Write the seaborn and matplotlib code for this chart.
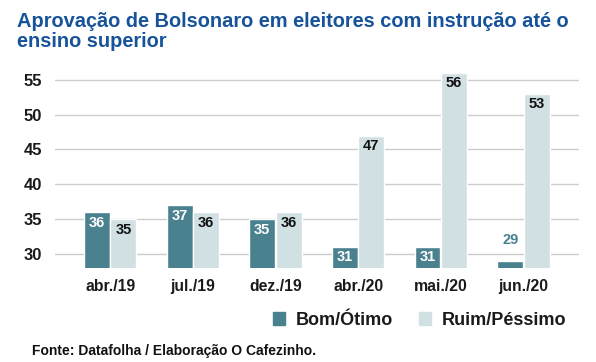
import numpy as np
import pandas as pd
import matplotlib
matplotlib.use("Agg")
import matplotlib.pyplot as plt
import seaborn as sns
from matplotlib.patches import Patch
from matplotlib.font_manager import FontProperties

# data
meses = ['abr./19', 'jul./19', 'dez./19', 'abr./20', 'mai./20', 'jun./20']
bom_otimo = [36, 37, 35, 31, 31, 29]
ruim_pessimo = [35, 36, 36, 47, 56, 53]
series = ['Bom/Ótimo', 'Ruim/Péssimo']

cor_escura = '#4a818e'
cor_clara = '#d1e0e3'

df = pd.DataFrame({'mes': meses * 2,
                   'serie': [series[0]] * len(meses) + [series[1]] * len(meses),
                   'valor': bom_otimo + ruim_pessimo})

sns.set_style('white')
plt.rcParams['font.family'] = ['Liberation Sans', 'DejaVu Sans']

fig = plt.figure(figsize=(5.96, 3.62), dpi=100)
ax = fig.add_axes([0.092, 0.26, 0.879, 0.558])

sns.barplot(data=df, x='mes', y='valor', hue='serie', order=meses,
            hue_order=series, palette=[cor_escura, cor_clara],
            width=0.64, gap=0.02, saturation=1, legend=False, ax=ax,
            zorder=3)

ax.set_ylim(28, 57)
ax.set_xlim(-0.67, 5.67)
ax.set_yticks([30, 35, 40, 45, 50, 55])
ax.grid(axis='y', color='#cccccc', linewidth=1, zorder=0)
for s in ax.spines.values():
    s.set_visible(False)
ax.set_xlabel('')
ax.set_ylabel('')
ax.tick_params(axis='y', length=0, pad=9, labelsize=12)
ax.tick_params(axis='x', length=0, pad=8, labelsize=11.3)
for lab in ax.get_yticklabels() + ax.get_xticklabels():
    lab.set_fontweight('bold')
    lab.set_color('#1a1a1a')

# value labels
for i, cont in enumerate(ax.containers):
    for bar in cont:
        v = bar.get_height()
        x = bar.get_x() + bar.get_width() / 2
        if v - 28 < 2.5:
            ax.annotate(f'{v:.0f}', (x, v), xytext=(0, 15), textcoords='offset points',
                        ha='center', va='center', fontsize=10.5, fontweight='bold',
                        color=cor_escura)
        else:
            ax.annotate(f'{v:.0f}', (x, v), xytext=(0, -7.5), textcoords='offset points',
                        ha='center', va='center', fontsize=10.5, fontweight='bold',
                        color='white' if i == 0 else '#111111')

fig.text(0.028, 0.914, 'Aprovação de Bolsonaro em eleitores com instrução até o\nensino superior',
         fontsize=14.4, fontweight='bold', color='#17539a', va='center',
         linespacing=1.05)

handles = [Patch(color=cor_escura), Patch(color=cor_clara)]
fp = FontProperties(family='Liberation Sans', weight='bold', size=13)
leg = fig.legend(handles, series, loc='center right', bbox_to_anchor=(0.978, 0.116),
                 ncol=2, frameon=False, prop=fp,
                 handlelength=0.7, handleheight=0.7, handletextpad=0.6,
                 columnspacing=1.4, labelcolor='#1a1a1a')

fig.text(0.054, 0.03, 'Fonte: Datafolha / Elaboração O Cafezinho.',
         fontsize=10, fontweight='bold', color='#111111', va='center')

fig.savefig('out.png', dpi=100)
